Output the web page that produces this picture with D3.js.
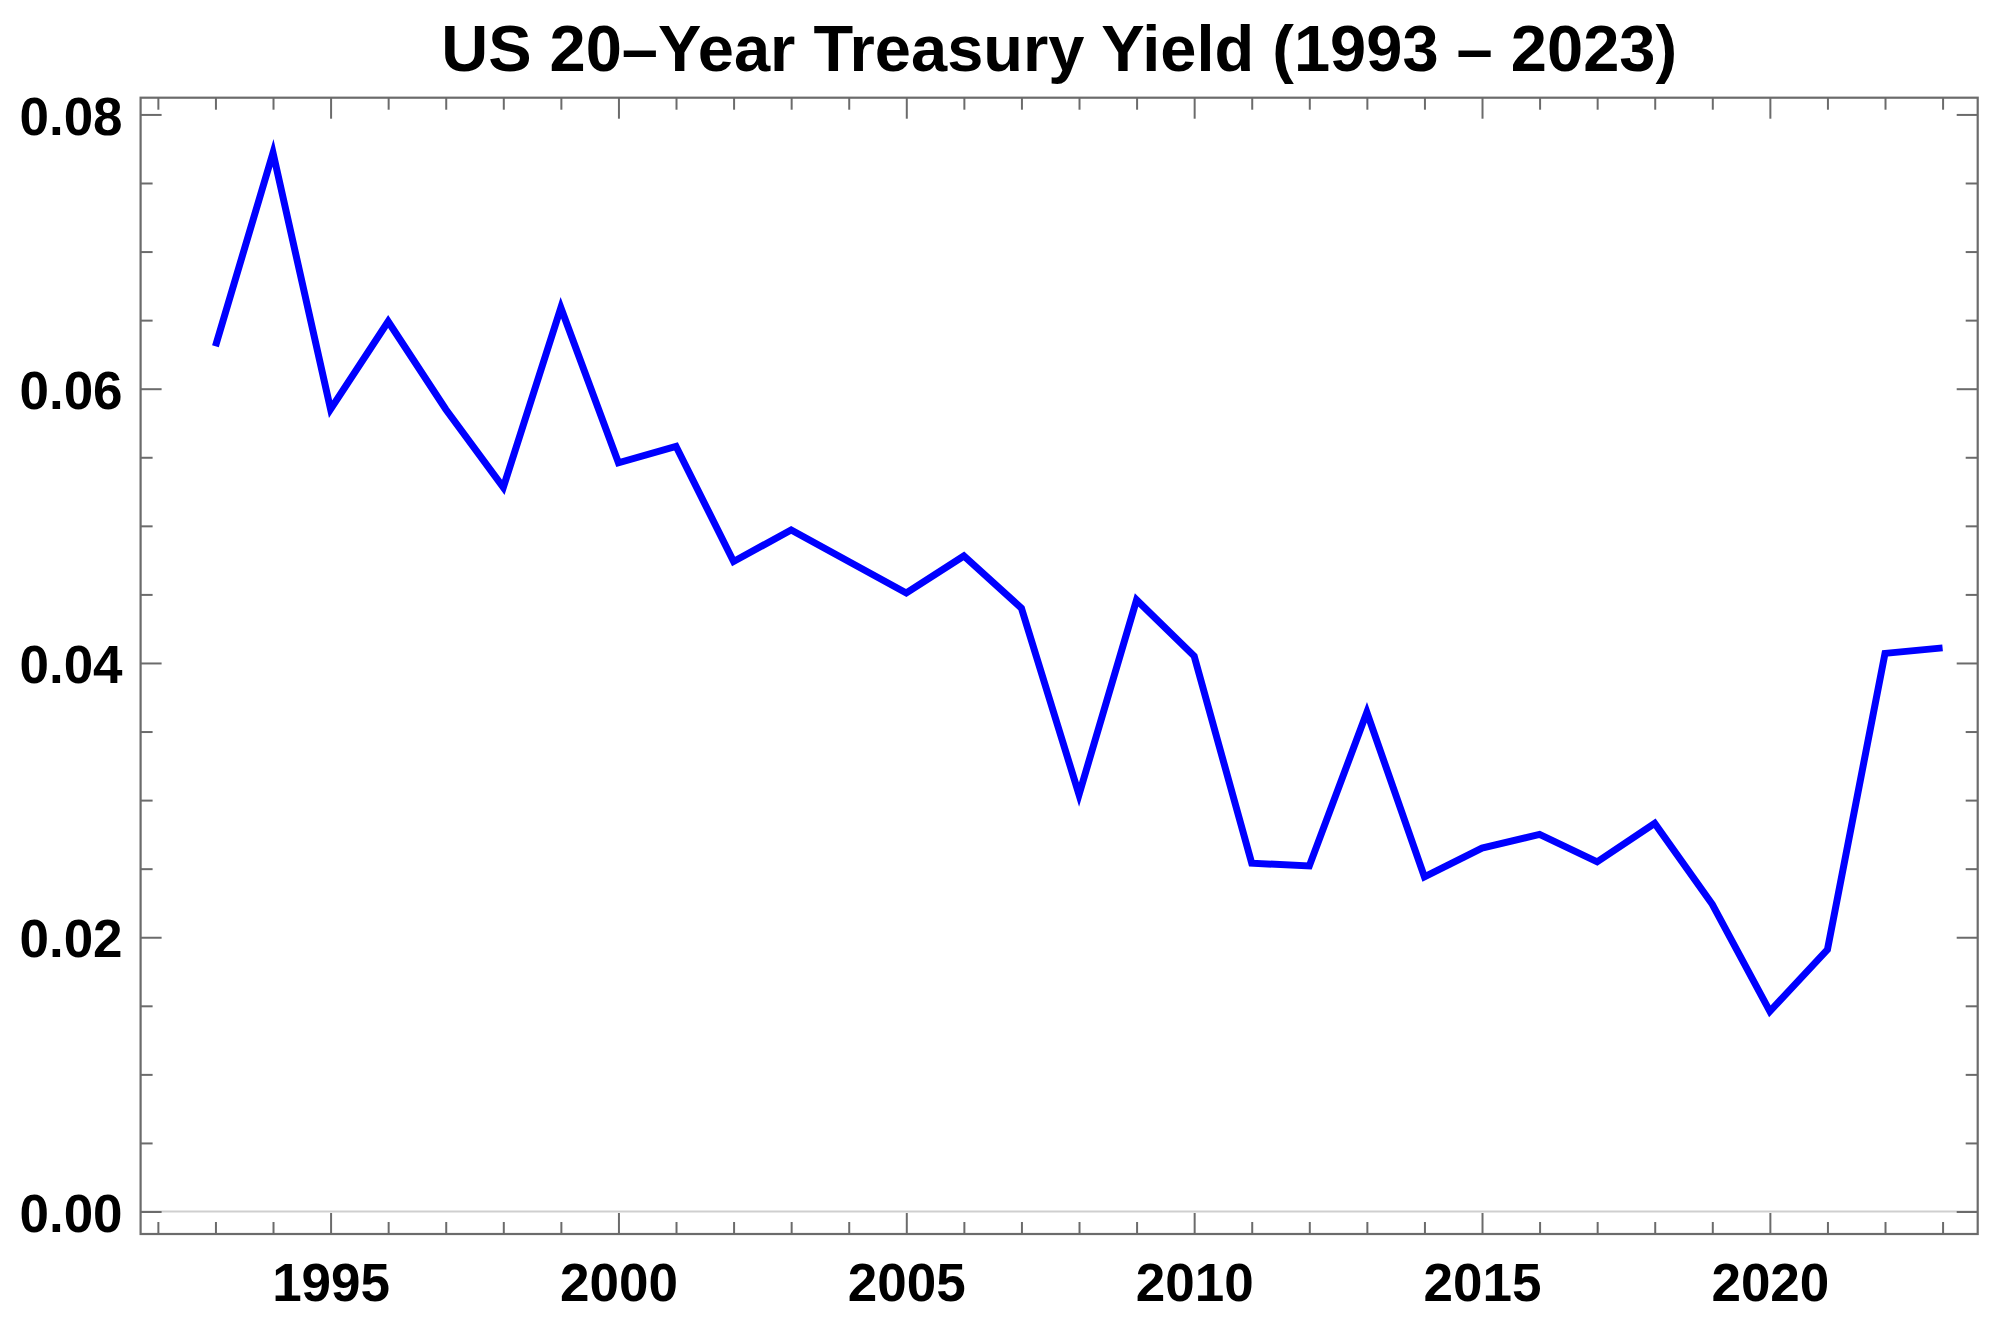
<!DOCTYPE html>
<html>
<head>
<meta charset="utf-8">
<script src="https://cdn.jsdelivr.net/npm/d3@7"></script>
<style>
  html, body { margin: 0; padding: 0; background: #ffffff; }
  svg { display: block; }
  text { font-family: "Liberation Sans", Arial, "DejaVu Sans", sans-serif; font-weight: bold; fill: #000; }
</style>
</head>
<body>
<svg id="chart" width="2002" height="1323"></svg>
<script>
// ---- Data ----
const title = "US 20\u2013Year Treasury Yield (1993 \u2013 2023)";
const years = [1993,1994,1995,1996,1997,1998,1999,2000,2001,2002,2003,2004,2005,2006,2007,2008,2009,2010,2011,2012,2013,2014,2015,2016,2017,2018,2019,2020,2021,2022,2023];
const yields = [0.0631,0.0772,0.0585,0.0649,0.0585,0.0528,0.0659,0.0546,0.0558,0.0474,0.0497,0.0474,0.0451,0.0478,0.0440,0.0304,0.0446,0.0405,0.0254,0.0252,0.0364,0.0244,0.0265,0.0275,0.0255,0.0283,0.0224,0.0146,0.0191,0.0407,0.0411];
const xMajorTicks = [1995,2000,2005,2010,2015,2020];
const xMinorTicks = [1992,1993,1994,1996,1997,1998,1999,2001,2002,2003,2004,2006,2007,2008,2009,2011,2012,2013,2014,2016,2017,2018,2019,2021,2022,2023];
const yMajorTicks = [0.00,0.02,0.04,0.06,0.08];
const yMinorTicks = [0.005,0.01,0.015,0.025,0.03,0.035,0.045,0.05,0.055,0.065,0.07,0.075];

// ---- Layout ----
const frame = { left: 140.6, right: 1977.7, top: 97.7, bottom: 1234 };
const svg = d3.select("#chart");

const x = d3.scaleLinear().domain([1991.70, 2023.61]).range([frame.left, frame.right]);
const y = d3.scaleLinear().domain([-0.00164, 0.08122]).range([frame.bottom, frame.top]);

const frameColor = "#6b6b6b";
const majorLen = 21, minorLen = 12;

// zero axis line
svg.append("line")
  .attr("x1", frame.left).attr("x2", frame.right)
  .attr("y1", y(0)).attr("y2", y(0))
  .attr("stroke", "#cfcfcf").attr("stroke-width", 2);

function styleAxis(g) {
  g.select(".domain").remove();
  g.selectAll(".tick line").attr("stroke", frameColor).attr("stroke-width", 2);
}

// bottom axis (labels)
svg.append("g").attr("transform", `translate(0,${frame.bottom})`)
  .call(d3.axisBottom(x).tickValues(xMajorTicks).tickFormat(d3.format("d"))
        .tickSizeInner(-majorLen).tickSizeOuter(0).tickPadding(29))
  .call(styleAxis)
  .call(g => g.selectAll("text").style("font-size", "53px").style("font-family", null).attr("fill", "#000"));
svg.append("g").attr("transform", `translate(0,${frame.bottom})`)
  .call(d3.axisBottom(x).tickValues(xMinorTicks).tickFormat("").tickSizeInner(-minorLen).tickSizeOuter(0))
  .call(styleAxis);

// top axis
svg.append("g").attr("transform", `translate(0,${frame.top})`)
  .call(d3.axisTop(x).tickValues(xMajorTicks).tickFormat("").tickSizeInner(-majorLen).tickSizeOuter(0))
  .call(styleAxis);
svg.append("g").attr("transform", `translate(0,${frame.top})`)
  .call(d3.axisTop(x).tickValues(xMinorTicks).tickFormat("").tickSizeInner(-minorLen).tickSizeOuter(0))
  .call(styleAxis);

// left axis (labels)
svg.append("g").attr("transform", `translate(${frame.left},0)`)
  .call(d3.axisLeft(y).tickValues(yMajorTicks).tickFormat(d3.format(".2f"))
        .tickSizeInner(-majorLen).tickSizeOuter(0).tickPadding(18))
  .call(styleAxis)
  .call(g => g.selectAll("text").style("font-size", "53px").style("font-family", null).attr("fill", "#000").attr("dy", "0.37em"));
svg.append("g").attr("transform", `translate(${frame.left},0)`)
  .call(d3.axisLeft(y).tickValues(yMinorTicks).tickFormat("").tickSizeInner(-minorLen).tickSizeOuter(0))
  .call(styleAxis);

// right axis
svg.append("g").attr("transform", `translate(${frame.right},0)`)
  .call(d3.axisRight(y).tickValues(yMajorTicks).tickFormat("").tickSizeInner(-majorLen).tickSizeOuter(0))
  .call(styleAxis);
svg.append("g").attr("transform", `translate(${frame.right},0)`)
  .call(d3.axisRight(y).tickValues(yMinorTicks).tickFormat("").tickSizeInner(-minorLen).tickSizeOuter(0))
  .call(styleAxis);

// frame
svg.append("rect")
  .attr("x", frame.left).attr("y", frame.top)
  .attr("width", frame.right - frame.left).attr("height", frame.bottom - frame.top)
  .attr("fill", "none").attr("stroke", frameColor).attr("stroke-width", 2.2);

// data line
const data = years.map((yr, i) => ({ year: yr, value: yields[i] }));
const line = d3.line().x(d => x(d.year)).y(d => y(d.value));
svg.append("path")
  .datum(data)
  .attr("d", line)
  .attr("fill", "none")
  .attr("stroke", "#0000ff")
  .attr("stroke-width", 7)
  .attr("stroke-linejoin", "miter")
  .attr("stroke-miterlimit", 10)
  .attr("stroke-linecap", "butt");

// title
svg.append("text")
  .attr("x", (frame.left + frame.right) / 2)
  .attr("y", 71)
  .attr("text-anchor", "middle")
  .style("font-size", "65px")
  .text(title);
</script>
</body>
</html>
